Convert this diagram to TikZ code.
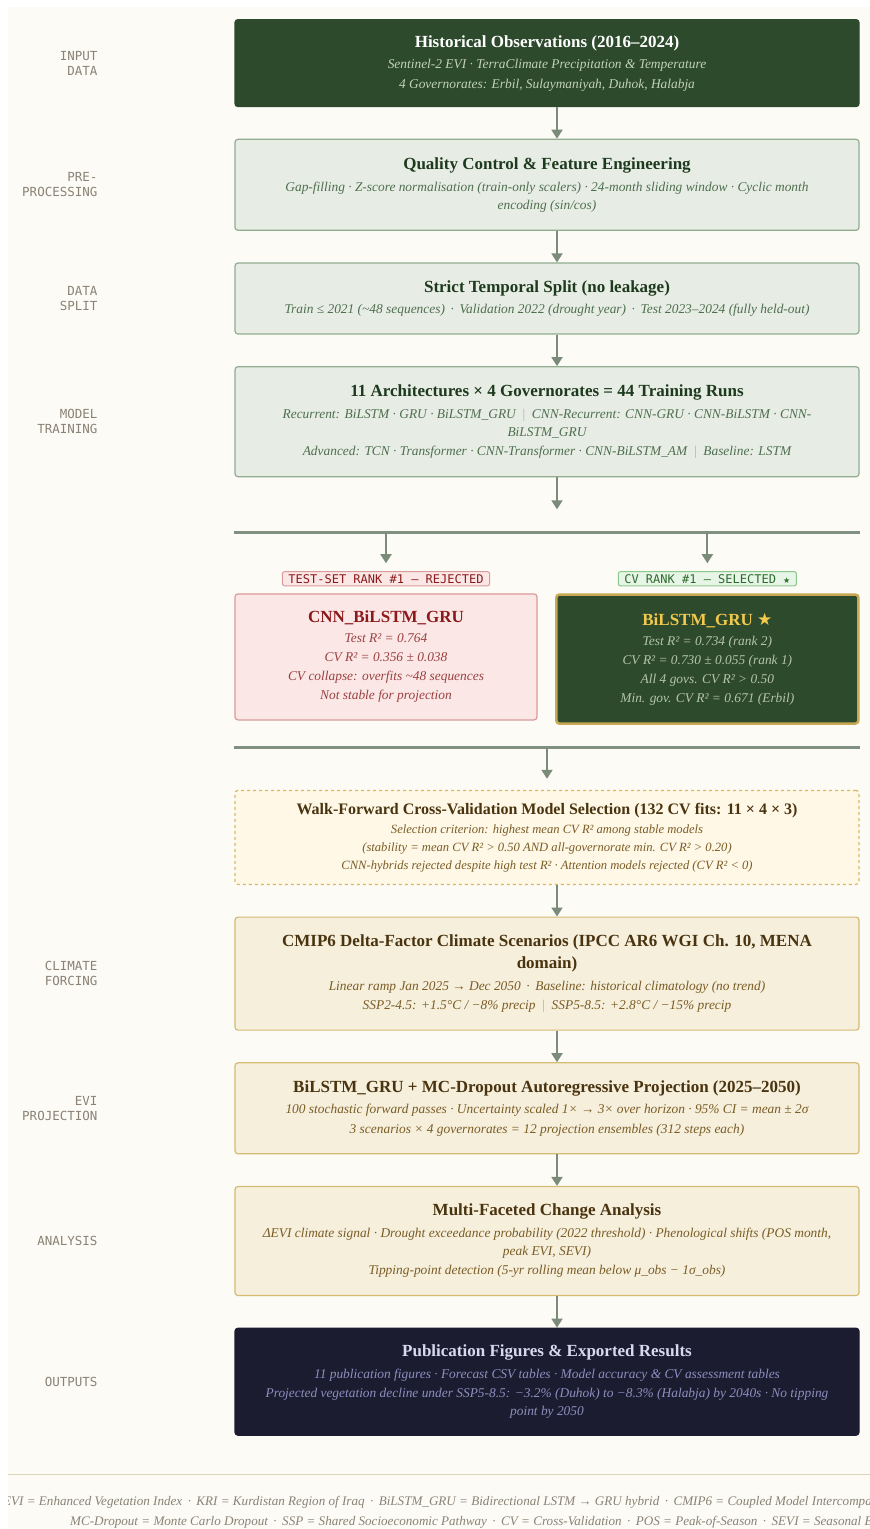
\documentclass[tikz,border=0pt]{standalone}
\usepackage{fontspec}
\setmainfont{Liberation Serif}
\newfontfamily\labelfont{DejaVu Sans Mono}
\newfontfamily\starfont{DejaVu Sans}
\usetikzlibrary{positioning, arrows.meta, calc}

\definecolor{panelbg}{HTML}{FCFBF6}
\definecolor{deepgreen}{HTML}{2D4A2D}
\definecolor{obstext}{HTML}{C3D1BC}
\definecolor{sagefill}{HTML}{E7EDE5}
\definecolor{sageline}{HTML}{92AC92}
\definecolor{sagetitle}{HTML}{1E3A1E}
\definecolor{sagetext}{HTML}{4E6E4E}
\definecolor{flow}{HTML}{7A8B7A}
\definecolor{lblgrey}{HTML}{8A8275}
\definecolor{rosefill}{HTML}{FCE7E7}
\definecolor{roseline}{HTML}{D99A9A}
\definecolor{rosetitle}{HTML}{8B1A1A}
\definecolor{rosetext}{HTML}{9A4040}
\definecolor{mintfill}{HTML}{E6F5E6}
\definecolor{mintline}{HTML}{8CC88C}
\definecolor{minttext}{HTML}{2D6A2D}
\definecolor{gold}{HTML}{C8A850}
\definecolor{goldtitle}{HTML}{F2C94C}
\definecolor{seltext}{HTML}{B5C4AE}
\definecolor{cream}{HTML}{FFF8E6}
\definecolor{creamline}{HTML}{D9B860}
\definecolor{sand}{HTML}{F6EFDC}
\definecolor{sandline}{HTML}{D4BC74}
\definecolor{browntitle}{HTML}{4A3410}
\definecolor{browntext}{HTML}{7A5C25}
\definecolor{navy}{HTML}{1C1C30}
\definecolor{navytitle}{HTML}{D8D8F0}
\definecolor{navytext}{HTML}{8E8EC0}
\definecolor{barblue}{HTML}{9AB0C8}
\definecolor{footrule}{HTML}{DDD5B8}

\newcommand{\hd}[2][.]{{\fontsize{17}{20}\selectfont\bfseries\upshape\color{#1}#2}}
\newcommand{\Sep}{\enspace{\color{barblue}\upshape|}\enspace}
\newcommand{\Dot}{\ \,·\ \,}

\begin{document}
\begin{tikzpicture}[
    x=1pt, y=1pt,
    font=\fontsize{13.4}{19.5}\selectfont\itshape,
    node distance=31.5pt,
    box/.style={rounded corners=3pt, minimum width=624pt, align=center,
                inner sep=4pt, line width=1.2pt},
    dark/.style={box, fill=deepgreen, draw=deepgreen, text=obstext},
    sage/.style={box, fill=sagefill, draw=sageline, text=sagetext},
    sand/.style={box, fill=sand, draw=sandline, text=browntext},
    wfbox/.style={box, fill=cream, draw=creamline, dashed, text=browntext,
                  font=\fontsize{12.6}{18}\selectfont\itshape},
    outbox/.style={box, fill=navy, draw=navy, text=navytext},
    half/.style={box, minimum width=302pt, font=\fontsize{13.4}{19}\selectfont\itshape},
    rejbox/.style={half, fill=rosefill, draw=roseline, text=rosetext},
    selbox/.style={half, fill=deepgreen, draw=gold, line width=2.5pt, text=seltext},
    tag/.style={rounded corners=2pt, line width=1pt, inner xsep=6pt, inner ysep=2.5pt,
                font=\labelfont\fontsize{12}{12}\selectfont},
    rejtag/.style={tag, fill=rosefill, draw=roseline, text=rosetitle},
    seltag/.style={tag, fill=mintfill, draw=mintline, text=minttext},
    lbl/.style={anchor=east, align=right, text=lblgrey,
                font=\labelfont\fontsize{12.5}{15}\selectfont},
    ar/.style={-{Triangle[length=9pt,width=11pt]}, line width=1.8pt, draw=flow},
    bar/.style={line width=3pt, draw=flow!95!white},
    foot/.style={anchor=west, text=lblgrey, inner sep=0pt,
                 font=\fontsize{13.1}{15}\selectfont\itshape},
  ]

  \useasboundingbox (0,0) rectangle (870,-1529);
  \fill[panelbg] (8,-7) rectangle (870,-1529);
  \coordinate (lblx) at (101,0);

  % ---- main column
  \node[dark, minimum height=87pt, anchor=north] (obs) at (547,-19)
    {\hd[white]{Historical Observations (2016–2024)}\\[2pt]
     Sentinel-2 EVI · TerraClimate Precipitation \& Temperature\\
     4 Governorates: Erbil, Sulaymaniyah, Duhok, Halabja};
  \node[sage, minimum height=91pt, below=of obs] (qc)
    {\hd[sagetitle]{Quality Control \& Feature Engineering}\\[2pt]
     Gap-filling · Z-score normalisation (train-only scalers) · 24-month sliding window · Cyclic month\\[-1.5pt]
     encoding (sin/cos)};
  \node[sage, minimum height=71pt, below=of qc] (split)
    {\hd[sagetitle]{Strict Temporal Split (no leakage)}\\[2pt]
     Train ≤ 2021 (\textasciitilde48 sequences)\Dot Validation 2022 (drought year)\Dot Test 2023–2024 (fully held-out)};
  \node[sage, minimum height=110pt, below=of split] (train)
    {\hd[sagetitle]{11 Architectures × 4 Governorates = 44 Training Runs}\\[2pt]
     Recurrent: BiLSTM · GRU · BiLSTM\_GRU\Sep CNN-Recurrent: CNN-GRU · CNN-BiLSTM · CNN-\\[-1.5pt]
     BiLSTM\_GRU\\
     Advanced: TCN · Transformer · CNN-Transformer · CNN-BiLSTM\_AM\Sep Baseline: LSTM};

  \foreach \a/\b in {obs/qc, qc/split, split/train}
    \draw[ar] ([xshift=10pt]\a.south) -- ([xshift=10pt]\b.north);

  % ---- fork
  \coordinate (forkin) at ($(train.south)+(10,-32)$);
  \coordinate (fork) at ($(train.south)+(0,-55)$);
  \draw[ar] ([xshift=10pt]train.south) -- (forkin);
  \draw[bar] (train.south west |- fork) -- (train.south east |- fork);

  \node[rejbox, minimum height=126pt, below=116pt of train.south west, anchor=north west] (rej)
    {\hd[rosetitle]{CNN\_BiLSTM\_GRU}\\[1pt]
     Test R² = 0.764\\
     CV R² = 0.356 ± 0.038\\
     CV collapse: overfits \textasciitilde48 sequences\\
     Not stable for projection};
  \node[selbox, minimum height=129pt, below=116pt of train.south east, anchor=north east] (sel)
    {\hd[goldtitle]{BiLSTM\_GRU {\starfont\mdseries ★}}\\[1pt]
     Test R² = 0.734 (rank 2)\\
     CV R² = 0.730 ± 0.055 (rank 1)\\
     All 4 govs. CV R² > 0.50\\
     Min. gov. CV R² = 0.671 (Erbil)};
  \node[rejtag, above=7pt of rej] (rejlbl) {TEST-SET RANK \#1 — REJECTED};
  \node[seltag, above=7pt of sel] (sellbl) {CV RANK \#1 — SELECTED {\starfont\fontsize{8}{8}\selectfont ★}};

  \draw[ar] (rejlbl.north |- fork) -- ([yshift=8pt]rejlbl.north);
  \draw[ar] (sellbl.north |- fork) -- ([yshift=8pt]sellbl.north);

  % ---- join
  \coordinate (join) at ($(sel.south)+(0,-23)$);
  \draw[bar] (train.south west |- join) -- (train.south east |- join);

  \node[wfbox, minimum height=94pt, anchor=north] (wf) at ($(join -| train.south)+(0,-42)$)
    {{\fontsize{16}{19}\selectfont\bfseries\upshape\color{browntitle}Walk-Forward Cross-Validation Model Selection (132 CV fits: 11 × 4 × 3)}\\[1pt]
     Selection criterion: highest mean CV R² among stable models\\
     (stability = mean CV R² > 0.50 AND all-governorate min. CV R² > 0.20)\\
     CNN-hybrids rejected despite high test R² · Attention models rejected (CV R² < 0)};
  \draw[ar] (join -| wf.north) -- ([yshift=11pt]wf.north);

  % ---- projection
  \node[sand, minimum height=113pt, below=of wf] (cmip)
    {\hd[browntitle]{CMIP6 Delta-Factor Climate Scenarios (IPCC AR6 WGI Ch. 10, MENA}\\[3pt]
     \hd[browntitle]{domain)}\\[2pt]
     Linear ramp Jan 2025 → Dec 2050\Dot Baseline: historical climatology (no trend)\\
     SSP2-4.5: +1.5°C / −8\% precip\Sep SSP5-8.5: +2.8°C / −15\% precip};
  \node[sand, minimum height=91pt, below=of cmip] (proj)
    {\hd[browntitle]{BiLSTM\_GRU + MC-Dropout Autoregressive Projection (2025–2050)}\\[2pt]
     100 stochastic forward passes · Uncertainty scaled 1× → 3× over horizon · 95\% CI = mean ± 2σ\\
     3 scenarios × 4 governorates = 12 projection ensembles (312 steps each)};
  \node[sand, minimum height=109pt, below=of proj] (ana)
    {\hd[browntitle]{Multi-Faceted Change Analysis}\\[2pt]
     ΔEVI climate signal · Drought exceedance probability (2022 threshold) · Phenological shifts (POS month,\\[-1.5pt]
     peak EVI, SEVI)\\
     Tipping-point detection (5-yr rolling mean below μ\_obs − 1σ\_obs)};
  \node[outbox, minimum height=107pt, below=of ana] (out)
    {\hd[navytitle]{Publication Figures \& Exported Results}\\[2pt]
     11 publication figures · Forecast CSV tables · Model accuracy \& CV assessment tables\\
     Projected vegetation decline under SSP5-8.5: −3.2\% (Duhok) to −8.3\% (Halabja) by 2040s · No tipping\\[-1.5pt]
     point by 2050};

  \foreach \a/\b in {wf/cmip, cmip/proj, proj/ana, ana/out}
    \draw[ar] ([xshift=10pt]\a.south) -- ([xshift=10pt]\b.north);

  % ---- stage labels
  \node[lbl] (l1) at (lblx |- obs)   {INPUT\\DATA};
  \node[lbl] (l2) at (lblx |- qc)    {PRE-\\PROCESSING};
  \node[lbl] (l3) at (lblx |- split) {DATA\\SPLIT};
  \node[lbl] (l4) at (lblx |- train) {MODEL\\TRAINING};
  \node[lbl] (l5) at (lblx |- cmip)  {CLIMATE\\FORCING};
  \node[lbl] (l6) at (lblx |- proj)  {EVI\\PROJECTION};
  \node[lbl] (l7) at (lblx |- ana)   {ANALYSIS};
  \node[lbl] (l8) at (lblx |- out)   {OUTPUTS};

  % ---- abbreviations
  \draw[footrule, line width=1pt] (8,-1474) -- (870,-1474);
  \begin{scope}
    \clip (8,-7) rectangle (870,-1529);
    \node[foot] (abbr1) at (3,-1502)
      {EVI = Enhanced Vegetation Index\Dot KRI = Kurdistan Region of Iraq\Dot BiLSTM\_GRU = Bidirectional LSTM → GRU hybrid\Dot CMIP6 = Coupled Model Intercomparison};
    \node[foot] (abbr2) at (70,-1522)
      {MC-Dropout = Monte Carlo Dropout\Dot SSP = Shared Socioeconomic Pathway\Dot CV = Cross-Validation\Dot POS = Peak-of-Season\Dot SEVI = Seasonal EVI};
  \end{scope}
\end{tikzpicture}
\end{document}
